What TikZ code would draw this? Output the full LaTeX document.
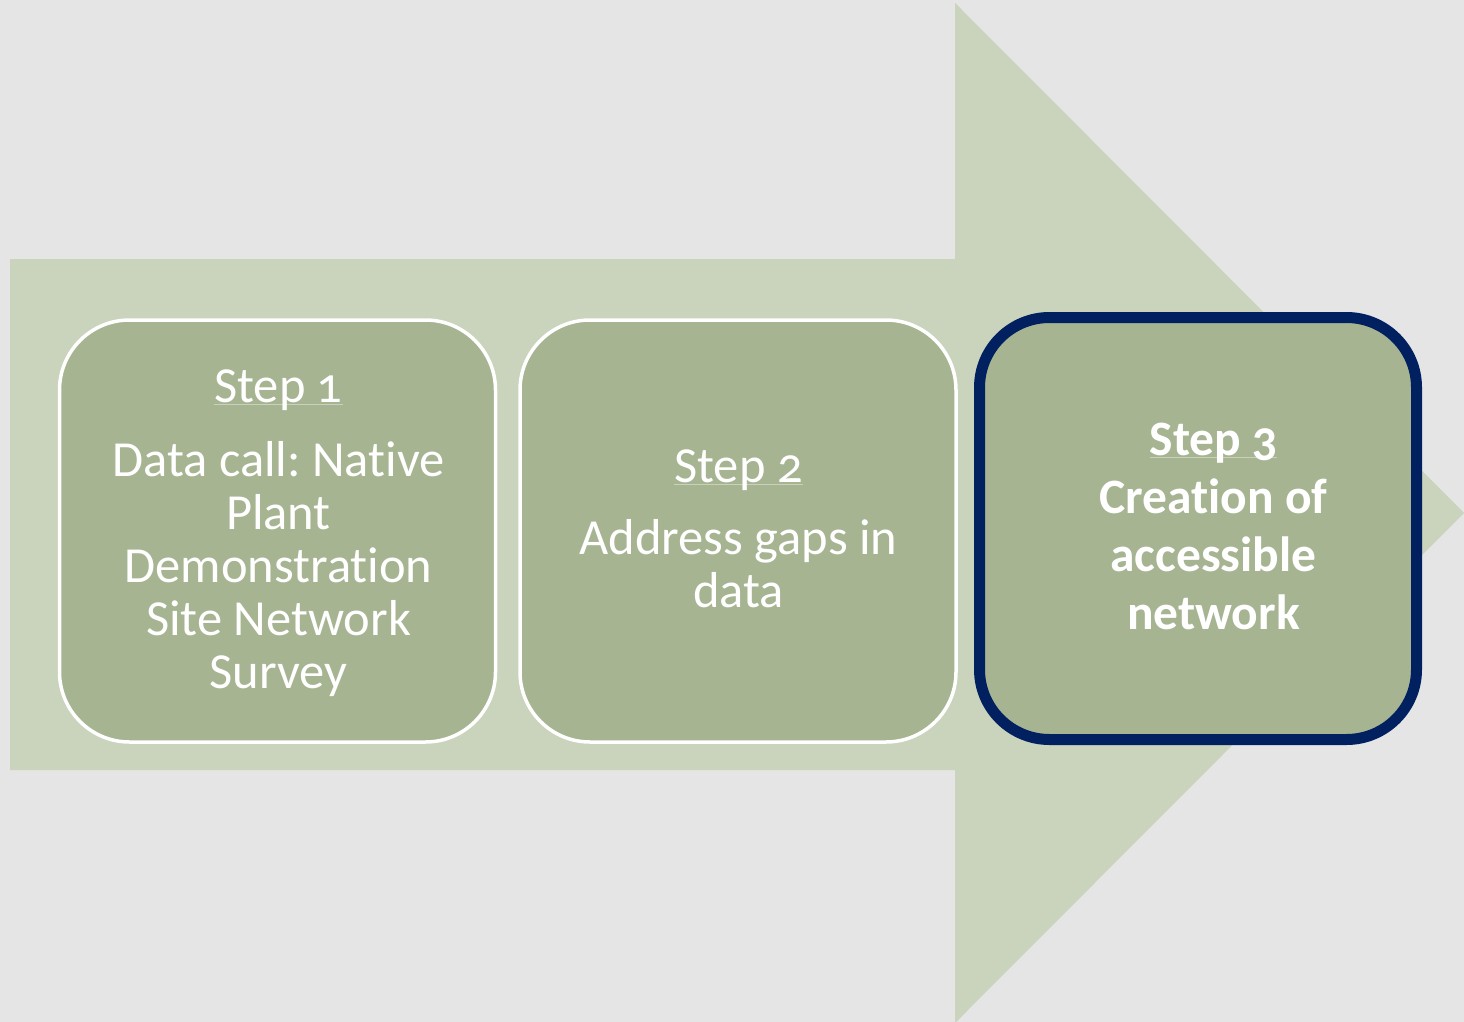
\documentclass[tikz,border=0pt]{standalone}
\usepackage{fontspec}
\newfontfamily\stepfont[Numbers=OldStyle,Ligatures={NoCommon}]{Carlito}
\frenchspacing
\definecolor{bgcol}{HTML}{E5E5E5}
\definecolor{arrowcol}{HTML}{CAD3BC}
\definecolor{boxfill}{HTML}{A6B492}
\definecolor{navycol}{HTML}{002060}
\definecolor{ulcol}{HTML}{C8D1BA}
\newsavebox\ulbox
\newcommand\stepul[1]{\sbox\ulbox{#1}\rlap{\color{ulcol}\rule[-3.1pt]{\wd\ulbox}{1.2pt}}\usebox\ulbox}
\begin{document}
\begin{tikzpicture}[x=1pt,y=-1pt,
  stepbox/.style={draw=white, line width=3.5pt, fill=boxfill, rounded corners=70pt,
    minimum width=436pt, minimum height=422pt, inner sep=0pt, outer sep=0pt},
  lastbox/.style={stepbox, draw=navycol, line width=11pt, minimum width=437pt},
  steptext/.style={text=white, align=center, anchor=base, inner sep=0pt,
    font=\stepfont\fontsize{50.5pt}{53pt}\selectfont},
  boldtext/.style={steptext, font=\stepfont\bfseries\fontsize{49.5pt}{58pt}\selectfont}]
\useasboundingbox (0,0) rectangle (1464,1022);
\fill[bgcol] (0,0) rectangle (1464,1022);
% big arrow
\fill[arrowcol] (10,259) -- (955,259) -- (955,3) -- (1464,513) -- (955,1023)
  -- (955,770) -- (10,770) -- cycle;
% boxes
\node[stepbox] (b1) at (277.5,531) {};
\node[stepbox] (b2) at (738,531) {};
\node[lastbox] (b3) at (1198,528.5) {};
% texts (anchored at the baseline of the last line)
\node[steptext] (t1) at (278.5,688)
  {\stepul{Step 1}\\[21pt]Data call: Native\\Plant\\Demonstration\\Site Network\\Survey};
\node[steptext] (t2) at (738.5,607)
  {\stepul{Step 2}\\[19pt]Address gaps in\\data};
\node[boldtext] (t3) at (1213.5,629)
  {\stepul{Step 3}\\Creation of\\accessible\\network};
\end{tikzpicture}
\end{document}
